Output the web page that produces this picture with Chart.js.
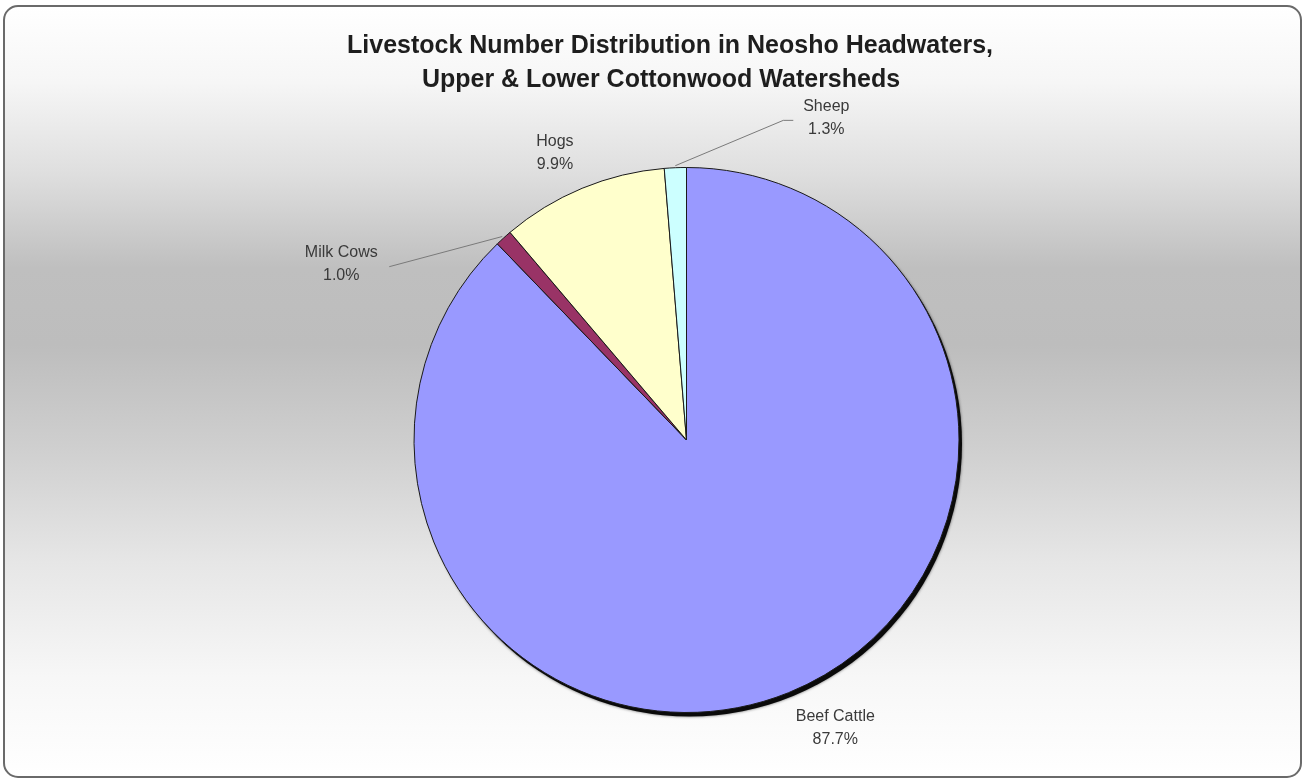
<!DOCTYPE html>
<html>
<head>
<meta charset="utf-8">
<script src="https://cdn.jsdelivr.net/npm/chart.js@4"></script>
<style>
  html, body { margin: 0; padding: 0; background: #fff; }
  canvas { display: block; }
</style>
</head>
<body>
<canvas id="livestockPie" width="1306" height="781"></canvas>
<script>
const categories = ['Beef Cattle', 'Milk Cows', 'Hogs', 'Sheep']
const shares = [87.7, 1.0, 9.9, 1.3]
const sliceColors = ['#9999ff', '#993366', '#ffffcc', '#ccffff']
const titleLines = ['Livestock Number Distribution in Neosho Headwaters,', 'Upper & Lower Cottonwood Watersheds']

// where each label sits, in radius units from the pie centre; lead = leader line end (px from label)
const labelSpots = [
    { dx: 0.546, dy: 1.055 },
    { dx: -1.267, dy: -0.647, lead: [48, 3] },
    { dx: -0.483, dy: -1.055 },
    { dx: 0.513, dy: -1.184, lead: [-43, 3], elbow: 10 }
]

const frameBg = {
    id: 'frameBg',
    beforeDraw(chart) {
        const { ctx, width, height } = chart
        ctx.save()
        const g = ctx.createLinearGradient(0, 5, 0, 778)
        g.addColorStop(0, '#ffffff')
        g.addColorStop(0.1, '#f6f6f6')
        g.addColorStop(0.22, '#dedede')
        g.addColorStop(0.34, '#bfbfbf')
        g.addColorStop(0.44, '#bdbdbd')
        g.addColorStop(0.58, '#d0d0d0')
        g.addColorStop(0.72, '#e6e6e6')
        g.addColorStop(0.87, '#f7f7f7')
        g.addColorStop(1, '#ffffff')
        ctx.fillStyle = '#ffffff'
        ctx.fillRect(0, 0, width, height)
        ctx.beginPath()
        ctx.roundRect(4, 6, 1297, 771, 14)
        ctx.fillStyle = g
        ctx.fill()
        ctx.lineWidth = 2
        ctx.strokeStyle = '#6a6a6a'
        ctx.stroke()

        ctx.fillStyle = '#1e1e1e'
        ctx.font = 'bold 25px "Liberation Sans", Arial, sans-serif'
        ctx.textAlign = 'center'
        ctx.textBaseline = 'middle'
        ctx.fillText(titleLines[0], 670, 46)
        ctx.fillText(titleLines[1], 661, 80)
        ctx.restore()
    },
    beforeDatasetsDraw(chart) {
        const arc = chart.getDatasetMeta(0).data[0]
        if (!arc) return
        const { ctx } = chart
        ctx.save()
        ctx.shadowColor = 'rgba(0,0,0,0.6)'
        ctx.shadowBlur = 3
        ctx.beginPath()
        ctx.arc(arc.x + 3, arc.y + 4, arc.outerRadius, 0, Math.PI * 2)
        ctx.fillStyle = '#0a0a0a'
        ctx.fill()
        ctx.restore()
    }
}

const sliceLabels = {
    id: 'sliceLabels',
    afterDatasetsDraw(chart) {
        const { ctx } = chart
        const arcs = chart.getDatasetMeta(0).data
        ctx.save()
        ctx.font = '16px "Liberation Sans", Arial, sans-serif'
        ctx.textAlign = 'center'
        ctx.textBaseline = 'middle'
        arcs.forEach((arc, i) => {
            const r = arc.outerRadius
            const spot = labelSpots[i]
            const lx = arc.x + spot.dx * r
            const ly = arc.y + spot.dy * r
            if (spot.lead) {
                const mid = (arc.startAngle + arc.endAngle) / 2
                const sx = arc.x + Math.cos(mid) * (r + 2)
                const sy = arc.y + Math.sin(mid) * (r + 2)
                const ex = lx + spot.lead[0]
                const ey = ly + spot.lead[1]
                ctx.beginPath()
                ctx.moveTo(sx, sy)
                ctx.lineTo(ex, ey)
                if (spot.elbow) ctx.lineTo(ex + spot.elbow, ey)
                ctx.strokeStyle = '#7a7a7a'
                ctx.lineWidth = 1
                ctx.stroke()
            }
            ctx.fillStyle = '#3a3a3a'
            ctx.fillText(categories[i], lx, ly - 11)
            ctx.fillText(shares[i].toFixed(1) + '%', lx, ly + 12)
        })
        ctx.restore()
    }
}

new Chart(document.getElementById('livestockPie'), {
    type: 'pie',
    data: {
        labels: categories,
        datasets: [{
            data: shares,
            backgroundColor: sliceColors,
            borderColor: '#1a1a1a',
            borderWidth: 1
        }]
    },
    options: {
        responsive: false,
        animation: false,
        layout: {
            padding: { top: 167, bottom: 68, left: 71, right: 4 }
        },
        plugins: {
            legend: { display: false },
            title: { display: false },
            tooltip: { enabled: false }
        }
    },
    plugins: [frameBg, sliceLabels]
})
</script>
</body>
</html>
